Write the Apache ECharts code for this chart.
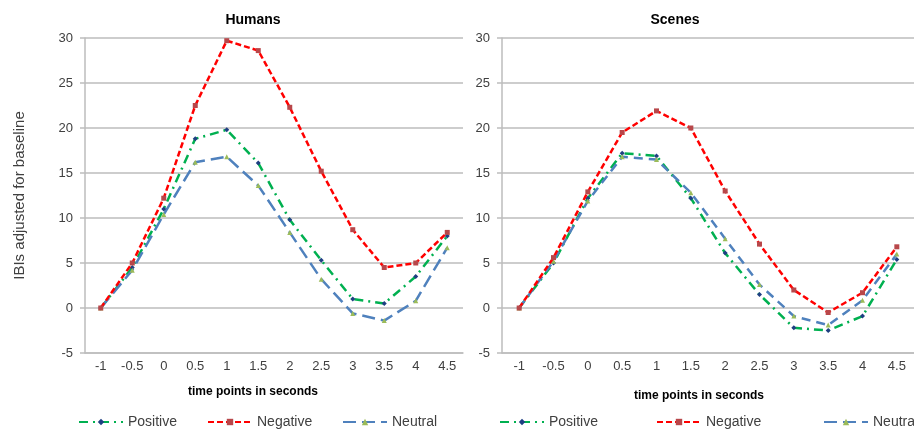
<!DOCTYPE html>
<html>
<head>
<meta charset="utf-8">
<script src="https://cdn.jsdelivr.net/npm/echarts@6/dist/echarts.min.js"></script>
<style>
  html, body { margin: 0; padding: 0; background: #fff; }
  #main { width: 914px; height: 431px; }
</style>
</head>
<body>
<div id="main"></div>
<script>
    // time points (seconds)
    var timePoints = ['-1', '-0.5', '0', '0.5', '1', '1.5', '2', '2.5', '3', '3.5', '4', '4.5'];

    // Humans
    var humansPositive = [0, 4.5, 11.0, 18.8, 19.8, 16.1, 9.8, 5.3, 1.0, 0.5, 3.5, 8.0];
    var humansNegative = [0, 5.0, 12.2, 22.5, 29.7, 28.6, 22.3, 15.2, 8.7, 4.5, 5.0, 8.4];
    var humansNeutral  = [0, 4.2, 10.4, 16.2, 16.8, 13.6, 8.4, 3.2, -0.6, -1.4, 0.8, 6.7];

    // Scenes
    var scenesPositive = [0, 5.0, 12.2, 17.2, 16.9, 12.2, 6.1, 1.5, -2.2, -2.5, -0.9, 5.4];
    var scenesNegative = [0, 5.6, 12.9, 19.5, 21.9, 20.0, 13.0, 7.1, 2.0, -0.5, 1.7, 6.8];
    var scenesNeutral  = [0, 5.2, 11.9, 16.8, 16.5, 12.8, 7.7, 2.6, -0.9, -1.9, 0.85, 6.0];

    var chart = echarts.init(document.getElementById('main'));

    var fontFam = '"Liberation Sans", Arial, sans-serif';
    var textCol = '#404040';
    var gridCol = '#bdbdbd';

    function yAxisOf(idx, withName) {
        return {
            type: 'value',
            gridIndex: idx,
            min: -5, max: 30, interval: 5,
            name: withName ? 'IBIs adjusted for baseline' : '',
            nameLocation: 'middle',
            nameGap: 58,
            nameTextStyle: { fontSize: 15, color: textCol, fontFamily: fontFam },
            axisLine: { show: true, lineStyle: { color: gridCol, width: 1.5 } },
            axisTick: { show: true, length: 5, lineStyle: { color: gridCol, width: 1.5 } },
            axisLabel: { fontSize: 13, color: textCol, fontFamily: fontFam, margin: 12 },
            splitLine: { lineStyle: { color: gridCol, width: 1.5 } }
        };
    }

    function xAxisOf(idx) {
        return {
            type: 'category',
            gridIndex: idx,
            data: timePoints,
            boundaryGap: true,
            axisLine: { show: true, onZero: false, lineStyle: { color: gridCol, width: 1.5 } },
            axisTick: { show: false },
            axisLabel: { fontSize: 13, color: textCol, fontFamily: fontFam, margin: 7, interval: 0 },
            splitLine: { show: false }
        };
    }

    var styles = {
        Positive: { line: '#00b050', mark: '#1f3f82', symbol: 'diamond', dash: [9, 5, 2, 5] },
        Negative: { line: '#ff0000', mark: '#b8474a', symbol: 'rect', dash: [6, 3] },
        Neutral:  { line: '#4f81bd', mark: '#9bbb59', symbol: 'triangle', dash: [13, 6] }
    };

    function seriesOf(name, idx, data, dash) {
        var s = styles[name];
        return {
            name: name,
            type: 'line',
            xAxisIndex: idx,
            yAxisIndex: idx,
            data: data,
            symbol: s.symbol,
            symbolSize: 5,
            showAllSymbol: true,
            itemStyle: { color: s.mark },
            lineStyle: { color: s.line, width: 2.5, type: dash || s.dash },
            emphasis: { disabled: true },
            z: name === 'Negative' ? 3 : 2
        };
    }

    function legendOf(name, left) {
        return {
            left: left,
            top: 415,
            width: 130,
            padding: 0,
            itemWidth: 44,
            itemHeight: 8,
            data: [name],
            selectedMode: false,
            textStyle: { fontSize: 14, color: textCol, fontFamily: fontFam }
        };
    }

    var option = {
        animation: false,
        title: [
            { text: 'Humans', left: 248, top: 8, textAlign: 'center',
              textStyle: { fontSize: 14, fontWeight: 'bold', color: '#000', fontFamily: fontFam } },
            { text: 'Scenes', left: 670, top: 8, textAlign: 'center',
              textStyle: { fontSize: 14, fontWeight: 'bold', color: '#000', fontFamily: fontFam } },
            { text: 'time points in seconds', left: 248, top: 381, textAlign: 'center',
              textStyle: { fontSize: 12, fontWeight: 'bold', color: '#000', fontFamily: fontFam } },
            { text: 'time points in seconds', left: 694, top: 385, textAlign: 'center',
              textStyle: { fontSize: 12, fontWeight: 'bold', color: '#000', fontFamily: fontFam } }
        ],
        legend: [
            legendOf('Positive', 78),
            legendOf('Negative', 207),
            legendOf('Neutral', 342),
            legendOf('Positive', 499),
            legendOf('Negative', 656),
            legendOf('Neutral', 823)
        ],
        grid: [
            { left: 85, top: 38, width: 378, height: 315 },
            { left: 502, top: 38, width: 412, height: 315 }
        ],
        xAxis: [xAxisOf(0), xAxisOf(1)],
        yAxis: [yAxisOf(0, true), yAxisOf(1, false)],
        series: [
            seriesOf('Positive', 0, humansPositive),
            seriesOf('Negative', 0, humansNegative),
            seriesOf('Neutral', 0, humansNeutral),
            seriesOf('Positive', 1, scenesPositive),
            seriesOf('Negative', 1, scenesNegative),
            seriesOf('Neutral', 1, scenesNeutral, [9, 6])
        ]
    };

    chart.setOption(option);
</script>
</body>
</html>
